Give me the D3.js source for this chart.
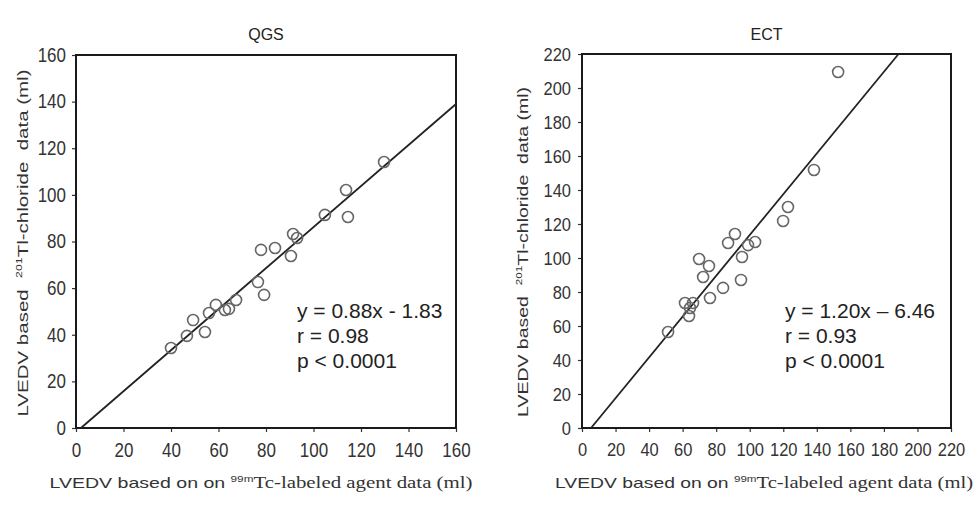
<!DOCTYPE html>
<html><head><meta charset="utf-8">
<script src="https://cdn.jsdelivr.net/npm/d3@7"></script>
<style>
html,body{margin:0;padding:0;background:#fff;}
svg text{font-family:"Liberation Sans",Arial,sans-serif;white-space:pre;}
</style></head>
<body>
<svg id="chart" width="980" height="518"></svg>
<script>
// ---- data ----
const qgsX = [40.0,46.7,49.3,54.3,56.0,58.9,62.7,64.4,67.4,76.6,79.2,77.9,83.8,90.5,91.4,93.1,104.8,113.7,114.5,129.7];
const qgsY = [34.3,39.5,46.3,41.2,49.3,52.8,50.6,51.1,54.9,62.6,57.1,76.4,77.2,73.8,83.2,81.5,91.4,102.1,90.5,114.1];
const ectX = [51.3,61.4,64.4,63.8,66.2,69.8,72.2,75.7,76.3,84.1,94.8,95.4,87.1,91.2,99.0,103.2,119.9,122.8,138.3,152.7];
const ectY = [56.5,73.5,70.6,65.9,73.5,99.4,88.8,95.3,76.5,82.4,87.1,100.6,108.8,114.1,107.6,109.4,121.8,130.0,151.8,209.4];
const qgsTicks = [0,20,40,60,80,100,120,140,160];
const ectTicks = [0,20,40,60,80,100,120,140,160,180,200,220];
const qgsFit = [0.88, -1.83];
const ectFit = [1.20, -6.46];
const qgsStats = ["y = 0.88x - 1.83", "r = 0.98", "p < 0.0001"];
const ectStats = ["y = 1.20x \u2013 6.46", "r = 0.93", "p < 0.0001"];
const titles = ["QGS", "ECT"];

const svg = d3.select("#chart");

function panel(opt){
  const x = d3.scaleLinear().domain([0, opt.max]).range(opt.xr);
  const y = d3.scaleLinear().domain([0, opt.max]).range(opt.yr);
  const g = svg.append("g");

  // axes
  const xa = d3.axisBottom(x).tickValues(opt.ticks).tickSize(4).tickPadding(9);
  const ya = d3.axisLeft(y).tickValues(opt.ticks).tickSize(4).tickPadding(opt.ypad);
  const gx = g.append("g").attr("transform", `translate(0,${opt.yr[0]})`).call(xa);
  const gy = g.append("g").attr("transform", `translate(${opt.xr[0]},0)`).call(ya);
  [gx, gy].forEach(a => {
    a.select(".domain").remove();
    a.selectAll("line").attr("stroke", "#333").attr("stroke-width", 1.2);
    a.selectAll("text").attr("fill", "#333").style("font-size", opt.tfs + "px")
      .attr("transform", "scale(1,1.15)");
  });

  // frame
  g.append("rect")
    .attr("x", opt.xr[0]).attr("y", opt.yr[1])
    .attr("width", opt.xr[1] - opt.xr[0]).attr("height", opt.yr[0] - opt.yr[1])
    .attr("fill", "none").attr("stroke", "#1a1a1a").attr("stroke-width", 2);

  // regression line
  const [a, b] = opt.fit;
  const x0 = -b / a;
  const x1 = Math.min(opt.max, (opt.max - b) / a);
  g.append("line")
    .attr("x1", x(x0)).attr("y1", y(a * x0 + b))
    .attr("x2", x(x1)).attr("y2", y(a * x1 + b))
    .attr("stroke", "#222").attr("stroke-width", 1.8);

  // points
  g.selectAll("circle.pt").data(opt.xs.map((v, i) => [v, opt.ys[i]]))
    .enter().append("circle").attr("class", "pt")
    .attr("cx", d => x(d[0])).attr("cy", d => y(d[1])).attr("r", 5.5)
    .attr("fill", "none").attr("stroke", "#666").attr("stroke-width", 1.6);

  // title
  g.append("text").attr("x", (opt.xr[0] + opt.xr[1]) / 2).attr("y", 40)
    .attr("text-anchor", "middle").style("font-size", "16px").attr("fill", "#222")
    .text(opt.title);

  // stats
  opt.stats.forEach((s, i) => {
    g.append("text").attr("x", opt.statX).attr("y", 318 + i * 25)
      .style("font-size", "21px").attr("fill", "#222").text(s);
  });

  // y label
  const yl = g.append("text")
    .attr("transform", `translate(${opt.ylx},${opt.ylc}) rotate(-90)`)
    .attr("text-anchor", "middle").style("font-size", "15px").attr("fill", "#333")
    .attr("textLength", opt.yllen).attr("lengthAdjust", "spacingAndGlyphs");
  yl.append("tspan").text("LVEDV based  ");
  yl.append("tspan").attr("dy", -6).style("font-size", "9px").text("201");
  yl.append("tspan").attr("dy", 6).text("Tl-chloride  data (ml)");

  // x label
  const xl = g.append("text").attr("x", opt.xlc).attr("y", 488)
    .attr("text-anchor", "middle").style("font-size", "15px").attr("fill", "#333")
    .attr("textLength", opt.xllen).attr("lengthAdjust", "spacingAndGlyphs");
  xl.append("tspan").text("LVEDV based on on ");
  xl.append("tspan").attr("dy", -6).style("font-size", "9px").text("99m");
  xl.append("tspan").attr("dy", 6).style("font-family", "'Liberation Serif','Times New Roman',serif")
    .style("font-size", "16px").text("Tc-labeled agent data (ml)");
}

panel({max:160, xr:[76,456], yr:[428,55], ticks:qgsTicks, fit:qgsFit, xs:qgsX, ys:qgsY,
  title:titles[0], stats:qgsStats, statX:297, tfs:17, ypad:6,
  ylx:28, ylc:243, yllen:347, xlc:261, xllen:423});
panel({max:220, xr:[582,951], yr:[428,54], ticks:ectTicks, fit:ectFit, xs:ectX, ys:ectY,
  title:titles[1], stats:ectStats, statX:785, tfs:16.5, ypad:7,
  ylx:528, ylc:252, yllen:330, xlc:764, xllen:418});
</script>
</body></html>
